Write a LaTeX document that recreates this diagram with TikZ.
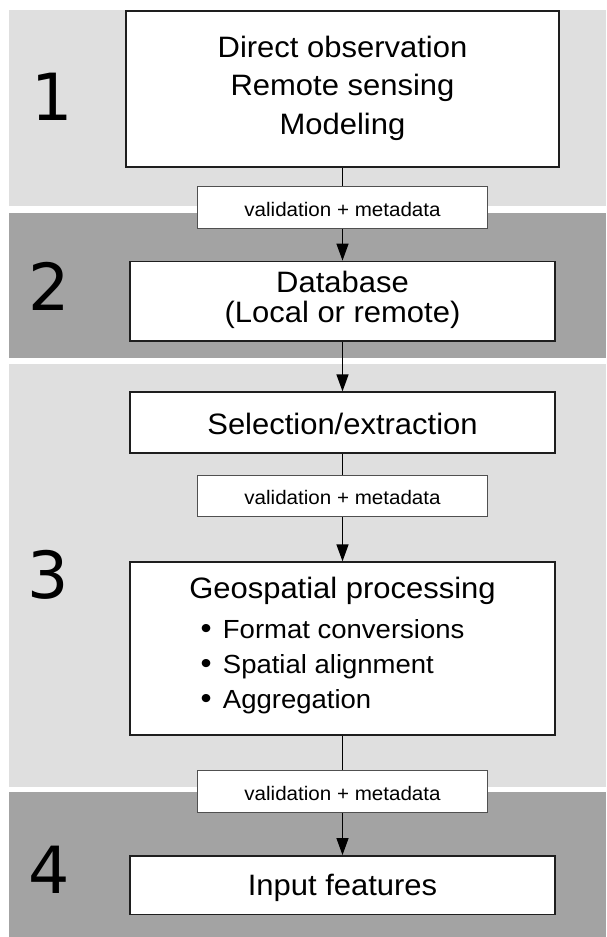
\documentclass[tikz,border=0pt]{standalone}
\usepackage{fontspec}
\setmainfont{Liberation Sans}[FakeStretch=1.05]
\newfontfamily\numfont{DejaVu Sans}
\usetikzlibrary{arrows.meta}
\definecolor{bandlight}{RGB}{223,223,223}
\definecolor{banddark}{RGB}{163,163,163}
\definecolor{boxline}{RGB}{30,30,30}
\definecolor{valline}{RGB}{80,80,80}
\begin{document}
\begin{tikzpicture}[x=1pt,y=-1pt,
  mainbox/.style={draw=boxline, line width=1.8pt, fill=white, inner sep=0pt, minimum width=425pt},
  valbox/.style={draw=valline, line width=1pt, fill=white, inner sep=0pt, minimum width=290.5pt, minimum height=41.5pt},
  txt/.style={anchor=base, inner sep=0pt, font=\fontsize{29.5}{35}\selectfont},
  valtxt/.style={anchor=base, inner sep=0pt, font=\fontsize{19.6}{23}\selectfont},
  itemtxt/.style={anchor=base west, inner sep=0pt, font=\fontsize{26.2}{30}\selectfont},
  bullettxt/.style={anchor=base, inner sep=0pt, font=\fontsize{30}{34}\selectfont},
  numtxt/.style={anchor=base, inner sep=0pt, font=\numfont\fontsize{65}{70}\selectfont},
  flow/.style={draw=black, line width=1.3pt, -{Triangle[length=17pt,width=12pt]}}
]
\useasboundingbox (0,0) rectangle (606,937);
\fill[white] (0,0) rectangle (606,937);
% bands
\fill[bandlight] (9,10) rectangle (606,206);
\fill[banddark] (9,212.5) rectangle (606,357.5);
\fill[bandlight] (9,364) rectangle (606,787);
\fill[banddark] (9,792) rectangle (606,937);
% numbers
\node[numtxt] (n1) at (51.7,120.7) {1};
\node[numtxt] (n2) at (49.3,310) {2};
\node[numtxt] (n3) at (48.3,598.8) {3};
\node[numtxt] (n4) at (48.7,893.3) {4};
% main boxes
\node[mainbox, minimum width=433.5pt, minimum height=156pt] (obs) at (342.5,88.7) {};
\node[mainbox, minimum height=79.2pt] (db) at (342.5,301.1) {};
\node[mainbox, minimum height=60.4pt] (sel) at (342.5,422.5) {};
\node[mainbox, minimum height=172.7pt] (geo) at (342.5,648.6) {};
\node[mainbox, minimum height=58.5pt] (inp) at (342.5,885.2) {};
% connectors
\draw[flow] (obs.south) -- (db.north);
\draw[flow] (db.south) -- (sel.north);
\draw[flow] (sel.south) -- (geo.north);
\draw[flow] (geo.south) -- (inp.north);
% validation boxes
\node[valbox] (v1) at (342.5,207.4) {};
\node[valbox] (v2) at (342.5,495.8) {};
\node[valbox] (v3) at (342.5,791.5) {};
\node[valtxt] (v1t) at (342.5,216.7) {validation + metadata};
\node[valtxt] (v2t) at (342.5,504.3) {validation + metadata};
\node[valtxt] (v3t) at (342.5,800.2) {validation + metadata};
% texts
\node[txt] (t1a) at (342.5,57.3) {Direct observation};
\node[txt] (t1b) at (342.5,95.8) {Remote sensing};
\node[txt] (t1c) at (342.5,134.2) {Modeling};
\node[txt] (t2a) at (342.5,292.7) {Database};
\node[txt] (t2b) at (342.5,322.5) {(Local or remote)};
\node[txt] (t3) at (342.5,434) {Selection/extraction};
\node[txt] (t4) at (342.5,598.3) {Geospatial processing};
\node[bullettxt] (b1) at (206.2,638.3) {•};
\node[bullettxt] (b2) at (206.2,673.3) {•};
\node[bullettxt] (b3) at (206.2,708.3) {•};
\node[itemtxt] (i1) at (222.7,638.3) {Format conversions};
\node[itemtxt] (i2) at (222.7,673.3) {Spatial alignment};
\node[itemtxt] (i3) at (222.7,708.3) {Aggregation};
\node[txt] (t5) at (342.5,895.7) {Input features};
\end{tikzpicture}
\end{document}
